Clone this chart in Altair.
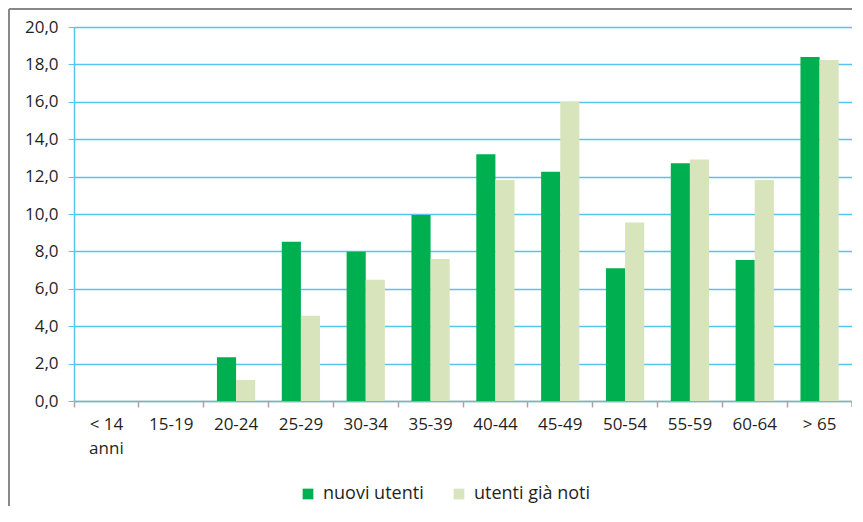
import altair as alt
import pandas as pd

categories = ["< 14|anni", "15-19", "20-24", "25-29", "30-34", "35-39",
              "40-44", "45-49", "50-54", "55-59", "60-64", "> 65"]
nuovi_utenti = [0.0, 0.0, 2.34, 8.52, 7.98, 9.95, 13.2, 12.26, 7.1, 12.71, 7.54, 18.4]
utenti_noti = [0.0, 0.0, 1.12, 4.56, 6.49, 7.59, 11.82, 16.0, 9.54, 12.92, 11.82, 18.24]
series = ["nuovi utenti", "utenti già noti"]
colors = ["#00B050", "#D8E4BC"]
y_ticks = [0, 2, 4, 6, 8, 10, 12, 14, 16, 18, 20]

rows = []
for c, a, b in zip(categories, nuovi_utenti, utenti_noti):
    rows.append({"cat": c, "serie": series[0], "val": a})
    rows.append({"cat": c, "serie": series[1], "val": b})
df = pd.DataFrame(rows)

W, H = 778, 374
FONT = "Open Sans"
TXT = "#1F1F1F"
BLUE = "#55C5EE"
GRAY = "#A6A6A6"

bars = alt.Chart(df).mark_bar().encode(
    x=alt.X("cat:N", sort=categories,
            scale=alt.Scale(paddingInner=0, paddingOuter=0),
            axis=alt.Axis(title=None, labelAngle=0, bandPosition=0,
                          labelExpr="split(datum.label, '|')",
                          labelFont=FONT, labelFontSize=17, labelColor=TXT,
                          labelPadding=9, labelLineHeight=24,
                          domainColor=GRAY, domainWidth=1.5,
                          tickColor=GRAY, tickSize=6, tickWidth=1.5, grid=False)),
    xOffset=alt.XOffset("serie:N", sort=series,
                        scale=alt.Scale(paddingInner=0, paddingOuter=0.695)),
    y=alt.Y("val:Q", scale=alt.Scale(domain=[0, 20], nice=False),
            axis=alt.Axis(title=None, values=y_ticks,
                          labelExpr="replace(format(datum.value, '.1f'), '.', ',')",
                          labelFont=FONT, labelFontSize=17, labelColor=TXT,
                          labelPadding=10, tickSize=6, tickColor=BLUE,
                          domainColor=BLUE, domainWidth=1.5,
                          grid=True, gridColor=BLUE, gridWidth=1.5)),
    color=alt.Color("serie:N", sort=series,
                    scale=alt.Scale(domain=series, range=colors),
                    legend=alt.Legend(title=None, orient="none", direction="horizontal",
                                      legendX=225, legendY=458, padding=0,
                                      symbolType="square", symbolSize=115,
                                      symbolStrokeWidth=0, labelFont=FONT,
                                      labelFontSize=18, labelColor=TXT,
                                      labelOffset=6, columnPadding=26)),
)

one = pd.DataFrame({"k": [0]})
end_tick = alt.Chart(one).mark_rule(color=GRAY, strokeWidth=1.5).encode(
    x=alt.value(W), y=alt.value(H), y2=alt.value(H + 6))
top_border = alt.Chart(one).mark_rule(color="#888888", strokeWidth=2).encode(
    x=alt.value(-65), x2=alt.value(W + 10), y=alt.value(-18))
left_border = alt.Chart(one).mark_rule(color="#888888", strokeWidth=2).encode(
    x=alt.value(-65), y=alt.value(-18), y2=alt.value(H + 110))

chart = alt.layer(bars, end_tick, top_border, left_border).properties(
    width=W, height=H,
    autosize=alt.AutoSizeParams(type="none"),
    padding={"left": 66, "top": 19, "right": 0, "bottom": 105},
).configure_view(stroke=None)

chart.save("out.html", embed_options={"renderer": "svg", "actions": False})
